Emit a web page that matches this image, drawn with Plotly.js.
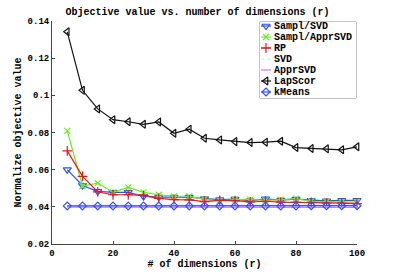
<!DOCTYPE html>
<html>
<head>
<meta charset="utf-8">
<script src="https://cdn.plot.ly/plotly-3.0.1.min.js"></script>
<style>html,body{margin:0;padding:0;background:#fff;}#chart{width:395px;height:275px;}</style>
</head>
<body>
<div id="chart"></div>
<script>
// ---- data ----
const dims = [5,10,15,20,25,30,35,40,45,50,55,60,65,70,75,80,85,90,95,100];
const samplSVD = [0.0600,0.0515,0.0483,0.0478,0.0478,0.0456,0.0452,0.0453,0.0452,0.0444,0.0439,0.0442,0.0432,0.0443,0.0436,0.0442,0.0435,0.0432,0.0435,0.0435];
const samplApprSVD = [0.0809,0.0512,0.0528,0.0478,0.0505,0.0478,0.0465,0.0456,0.0456,0.0440,0.0432,0.0439,0.0439,0.0435,0.0439,0.0444,0.0430,0.0427,0.0425,0.0425];
const rp = [0.0701,0.0564,0.0480,0.0465,0.0465,0.0462,0.0446,0.0439,0.0437,0.0428,0.0435,0.0433,0.0426,0.0430,0.0425,0.0424,0.0424,0.0420,0.0420,0.0417];
const svd = [0.0403,0.0403,0.0403,0.0403,0.0403,0.0403,0.0402,0.0402,0.0402,0.0402,0.0402,0.0402,0.0402,0.0402,0.0402,0.0402,0.0402,0.0402,0.0402,0.0402];
const apprSVD = [0.0398,0.0398,0.0398,0.0398,0.0398,0.0398,0.0398,0.0398,0.0398,0.0398,0.0397,0.0397,0.0397,0.0397,0.0397,0.0397,0.0397,0.0397,0.0397,0.0397];
const lapScor = [0.1342,0.1027,0.0927,0.0869,0.0858,0.0844,0.0857,0.0796,0.0818,0.0769,0.0760,0.0751,0.0746,0.0748,0.0753,0.0719,0.0714,0.0712,0.0707,0.0723];
const kMeans = [0.0405,0.0405,0.0405,0.0405,0.0405,0.0405,0.0405,0.0405,0.0405,0.0405,0.0405,0.0405,0.0405,0.0405,0.0405,0.0405,0.0406,0.0406,0.0406,0.0406];
const seriesNames = ['Sampl/SVD','Sampl/ApprSVD','RP','SVD','ApprSVD','LapScor','kMeans'];
const yTickVals = [0.02,0.04,0.06,0.08,0.1,0.12,0.14];
const yTickText = ['0.02','0.04','0.06','0.08','0.1','0.12','0.14'];
const xTickVals = [0,20,40,60,80,100];

// ---- styles ----
const FONT = 'Liberation Mono, Courier New, monospace';
const styles = [
  {color:'#2f4fff', dash:'solid', symbol:'triangle-down-open', size:7, mode:'lines+markers'},
  {color:'#66ee22', dash:'solid', symbol:'x-thin-open', size:6, mode:'lines+markers'},
  {color:'#ff1010', dash:'solid', symbol:'cross-thin-open', size:7, mode:'lines+markers'},
  {color:'#99ffee', dash:'dot', symbol:'circle', size:1, mode:'lines'},
  {color:'#cc77ff', dash:'solid', symbol:'circle', size:1, mode:'lines'},
  {color:'#111111', dash:'solid', symbol:'triangle-left-open', size:7, mode:'lines+markers'},
  {color:'#2f4fff', dash:'solid', symbol:'diamond-open', size:6, mode:'lines+markers'}
];
const allY = [samplSVD, samplApprSVD, rp, svd, apprSVD, lapScor, kMeans];

const traces = allY.map((ys,i)=>({
  x: dims, y: ys, name: seriesNames[i], type:'scatter', mode: styles[i].mode,
  line:{color:styles[i].color, width:1.2, dash:styles[i].dash},
  marker:{symbol:styles[i].symbol, size:styles[i].size, color:styles[i].color, line:{color:styles[i].color, width:1.2}},
  showlegend:false, cliponaxis:false
}));

// custom compact legend (glyphs on a hidden pixel-unit axis inside the legend box)
const annotations = [];
seriesNames.forEach((nm,i)=>{
  const ry = 4 + 11*i;
  traces.push({x:[1,11], y:[ry,ry], xaxis:'x2', yaxis:'y2', type:'scatter', mode:'lines', showlegend:false, hoverinfo:'skip',
    line:{color:styles[i].color, width:1.2, dash:styles[i].dash}});
  if (styles[i].mode.indexOf('markers')>=0) {
    traces.push({x:[6], y:[ry], xaxis:'x2', yaxis:'y2', type:'scatter', mode:'markers', showlegend:false, hoverinfo:'skip',
      marker:{symbol:styles[i].symbol, size:styles[i].size, color:styles[i].color, line:{color:styles[i].color, width:1.2}}});
  }
  annotations.push({xref:'x2', yref:'y2', x:12, y:ry, text:nm, showarrow:false, xanchor:'left', yanchor:'middle',
    font:{family:FONT, size:10, color:'#000', weight:'bold'}});
});

const lx0 = (260-52)/305, lx1 = (356-52)/305;
const ly1 = (244-22)/223, ly0 = (244-98)/223;

const layout = {
  width:395, height:275,
  margin:{l:52, r:38, t:21, b:31},
  paper_bgcolor:'#fff', plot_bgcolor:'#fff',
  showlegend:false,
  font:{family:FONT, size:9, color:'#000'},
  title:{text:'Objective value vs. number of dimensions (r)', font:{family:FONT, size:10, color:'#000', weight:'bold'}, x:0.5, xanchor:'center', y:0.96, yanchor:'middle'},
  xaxis:{range:[0,100], tickvals:xTickVals, ticks:'inside', ticklen:3, tickcolor:'#444', showgrid:false, zeroline:false,
    showline:true, linecolor:'#444', linewidth:1, mirror:false,
    tickfont:{family:FONT, size:9, color:'#000', weight:'bold'},
    title:{text:'# of dimensions (r)', font:{family:FONT, size:10, color:'#000', weight:'bold'}, standoff:0}},
  yaxis:{range:[0.02,0.14], tickvals:yTickVals, ticktext:yTickText, ticks:'inside', ticklen:3, tickcolor:'#444', showgrid:false, zeroline:false,
    showline:true, linecolor:'#444', linewidth:1, mirror:false,
    tickfont:{family:FONT, size:9, color:'#000', weight:'bold'},
    title:{text:'Normalize objective value', font:{family:FONT, size:10, color:'#000', weight:'bold'}, standoff:4}},
  xaxis2:{domain:[lx0,lx1], range:[0,96], visible:false, fixedrange:true, anchor:'y2'},
  yaxis2:{domain:[ly0,ly1], range:[76,0], visible:false, fixedrange:true, anchor:'x2'},
  shapes:[{type:'rect', xref:'paper', yref:'paper', x0:lx0, x1:lx1, y0:ly0, y1:ly1, line:{color:'#888', width:1}, fillcolor:'rgba(255,255,255,1)', layer:'below'}],
  annotations: annotations
};

Plotly.newPlot('chart', traces, layout, {staticPlot:true, displayModeBar:false});
</script>
</body>
</html>
